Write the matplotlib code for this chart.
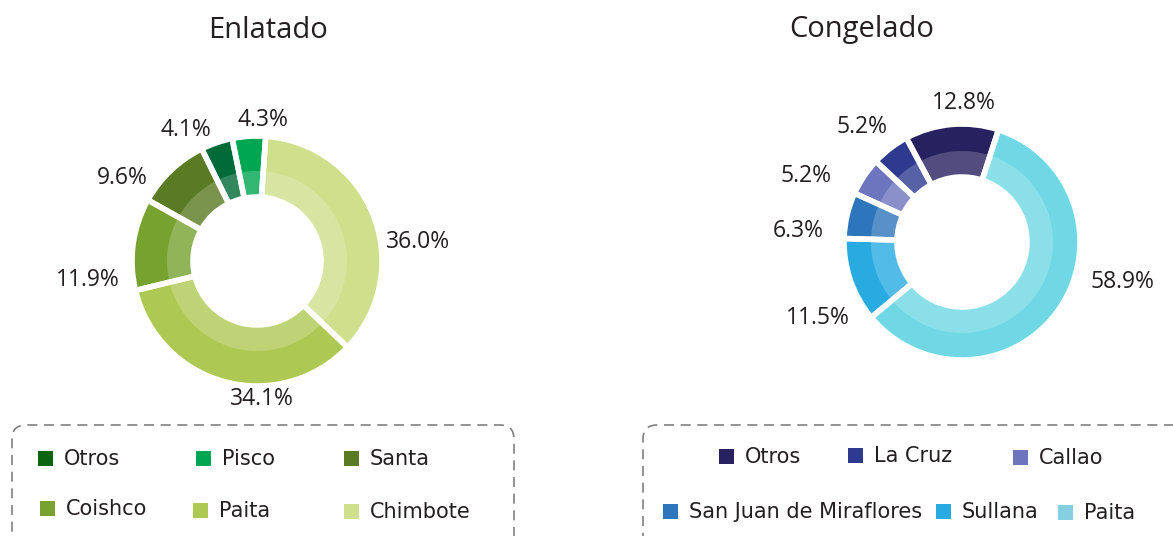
import matplotlib
matplotlib.use("Agg")
import matplotlib.pyplot as plt
from matplotlib.patches import Rectangle, FancyBboxPatch

# datos (orden de los sectores, antihorario)
enl_names = ["Pisco", "Otros", "Santa", "Coishco", "Paita", "Chimbote"]
enl_values = [4.3, 4.1, 9.6, 11.9, 34.1, 36.0]
enl_colors = ["#00a651", "#006a38", "#5a7a23", "#78a22f", "#aec953", "#cfdf8b"]

con_names = ["Otros", "La Cruz", "Callao", "San Juan de Miraflores", "Sullana", "Paita"]
con_values = [12.8, 5.2, 5.2, 6.3, 11.5, 58.9]
con_colors = ["#27215f", "#2e3a8f", "#6c75bd", "#2e76bb", "#29abe2", "#6fd8e4"]

# orden de la leyenda
enl_legend = ["Otros", "Pisco", "Santa", "Coishco", "Paita", "Chimbote"]
enl_legend_colors = {"Otros": "#0b6410"}
con_legend = ["Otros", "La Cruz", "Callao", "San Juan de Miraflores", "Sullana", "Paita"]
con_legend_colors = {"Paita": "#85cfe0"}

W, H = 1173, 536
TXT = "#231f20"

fig = plt.figure(figsize=(W / 100, H / 100), dpi=100)
ax = fig.add_axes([0, 0, 1, 1])


def Y(y):
    return H - y


def donut(values, colors, cx, cy, R, rb, rh, start):
    kw = dict(startangle=start, counterclock=True, center=(cx, Y(cy)), frame=True)
    ax.pie(values, colors=colors, radius=R,
           wedgeprops=dict(width=R - rh, edgecolor="none"), **kw)
    # banda interior mas clara
    ax.pie(values, colors=[(1, 1, 1, 0.2)] * len(values), radius=rb,
           wedgeprops=dict(width=rb - rh, edgecolor="none"), **kw)
    # separaciones blancas
    ax.pie(values, colors=["none"] * len(values), radius=R,
           wedgeprops=dict(width=R - rh, edgecolor="white", linewidth=4), **kw)


donut(enl_values, enl_colors, 257, 261, 125, 90, 64, 86)
donut(con_values, con_colors, 962, 242, 118, 91, 65, 72)

ax.set_xlim(0, W)
ax.set_ylim(0, H)
ax.axis("off")

# titulos
ax.text(268, Y(30), "Enlatado", fontsize=21, family="Open Sans",
        color=TXT, ha="center", va="center")
ax.text(862, Y(30), "Congelado", fontsize=21, family="Open Sans",
        color=TXT, ha="center", va="center")

# etiquetas de porcentaje
enl_lab_pos = [(263, 120), (186, 130), (122, 178), (88, 280), (262, 399), (418, 242)]
con_lab_pos = [(964, 103), (862, 127), (806, 176), (798, 231), (818, 318), (1122, 282)]
for vals, pos in ((enl_values, enl_lab_pos), (con_values, con_lab_pos)):
    for v, (x, y) in zip(vals, pos):
        ax.text(x, Y(y), f"{v:.1f}%", fontsize=16.5, family="Open Sans",
                color=TXT, ha="center", va="center")

# cajas de la leyenda
for x0, x1 in ((12, 514), (643, 1200)):
    box = FancyBboxPatch((x0, Y(560)), x1 - x0, 560 - 425,
                         boxstyle="round,pad=0,rounding_size=14",
                         fill=False, edgecolor="#808080", linewidth=1.2,
                         linestyle=(0, (6, 4)))
    ax.add_patch(box)

enl_leg_pos = [(38, 459), (196, 459), (344, 459), (40, 509), (193, 511), (344, 512)]
con_leg_pos = [(719, 457), (848, 456), (1013, 458), (663, 512), (936, 512), (1058, 513)]


def legend(names, pie_names, pie_colors, overrides, positions):
    cmap = dict(zip(pie_names, pie_colors))
    cmap.update(overrides)
    for n, (x, y) in zip(names, positions):
        ax.add_patch(Rectangle((x, Y(y) - 7), 15, 15, facecolor=cmap[n],
                               edgecolor="none"))
        ax.text(x + 26, Y(y), n, fontsize=15, family="DejaVu Sans",
                color=TXT, ha="left", va="center")


legend(enl_legend, enl_names, enl_colors, enl_legend_colors, enl_leg_pos)
legend(con_legend, con_names, con_colors, con_legend_colors, con_leg_pos)

fig.savefig("out.png", dpi=100)
